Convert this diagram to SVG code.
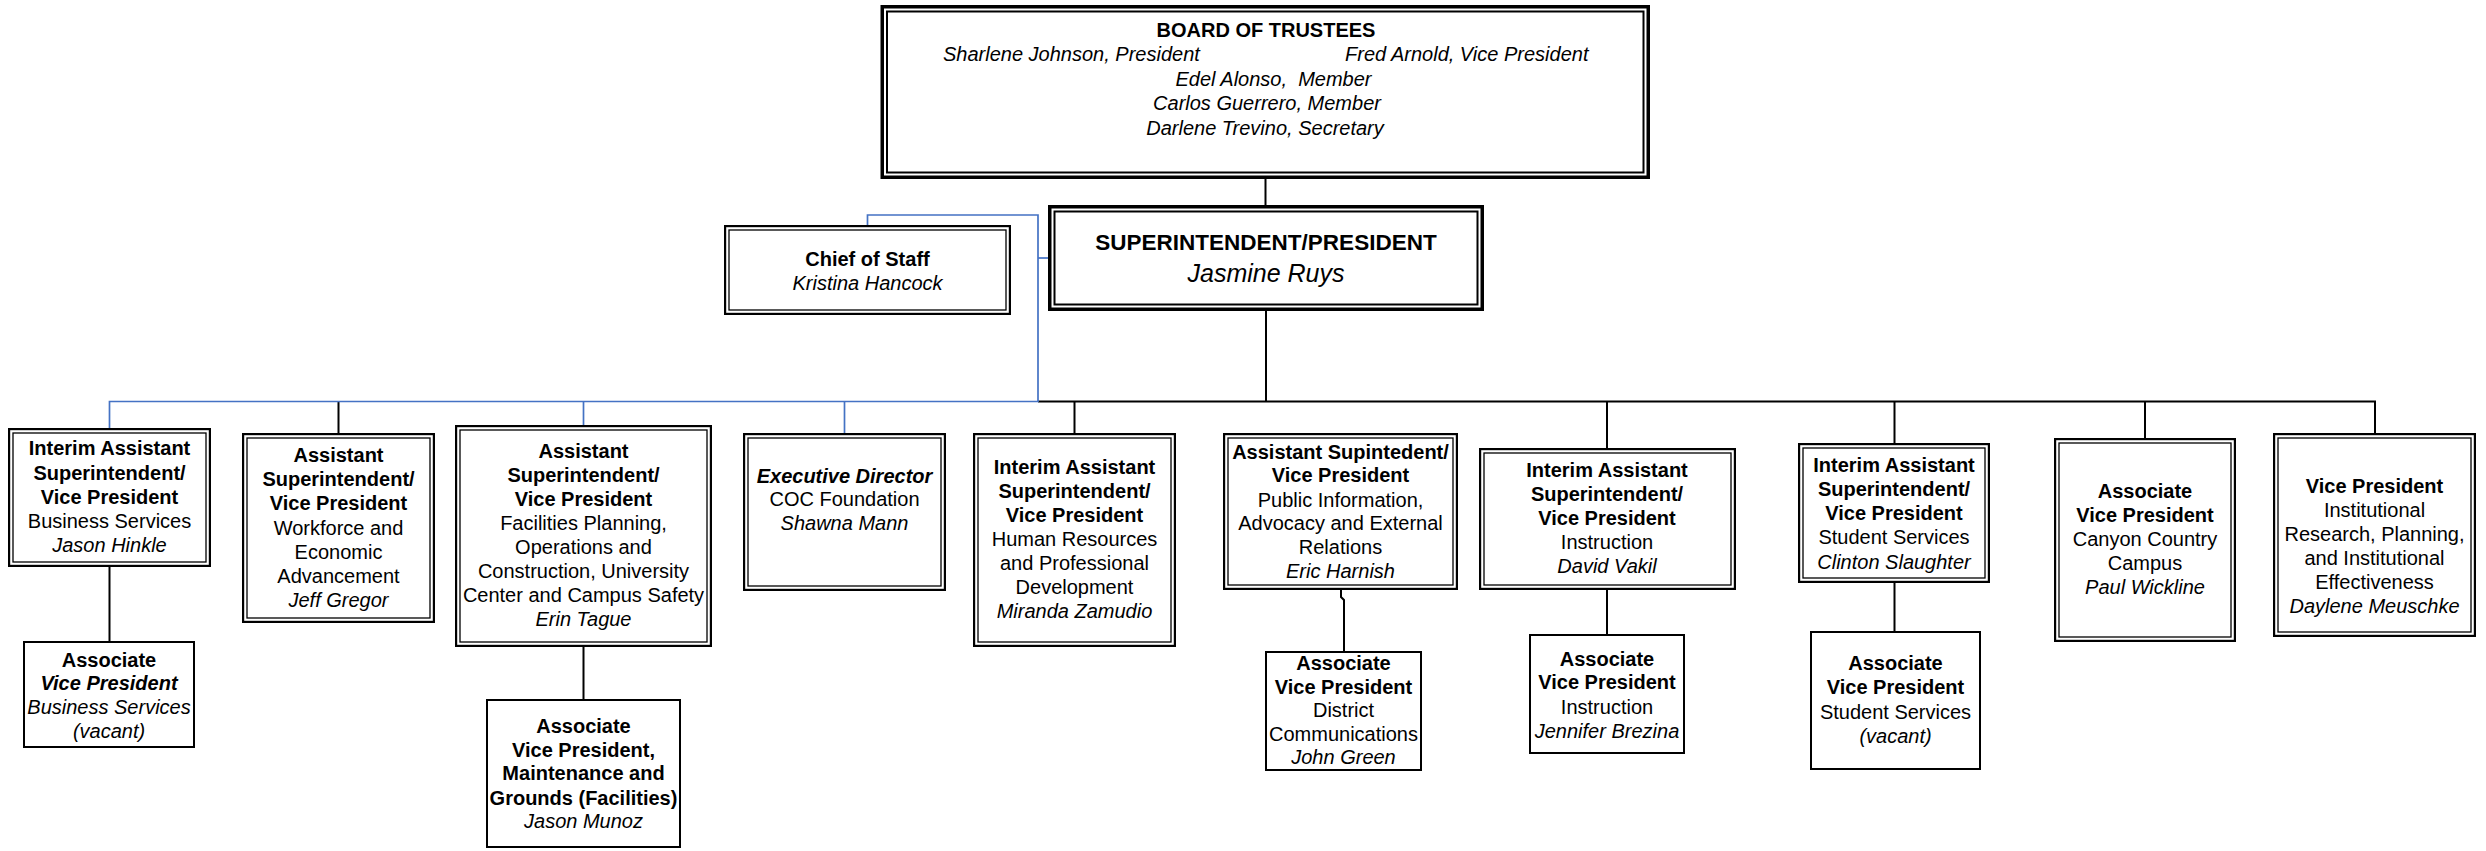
<svg xmlns="http://www.w3.org/2000/svg" width="2486" height="851" viewBox="0 0 2486 851">
<style>
  .bg { fill: #ffffff; }
  .o { fill: #ffffff; stroke: #000; stroke-width: 2.2; }
  .i { fill: none; stroke: #000; stroke-width: 1.3; }
  .O { fill: #ffffff; stroke: #000; stroke-width: 3.5; }
  .I { fill: none; stroke: #000; stroke-width: 2; }
  .s { fill: #ffffff; stroke: #000; stroke-width: 2; }
  .k { fill: none; stroke: #000; stroke-width: 2; }
  .bl { fill: none; stroke: #4472C4; stroke-width: 1.7; }
  text { font-family: "Liberation Sans", Arial, sans-serif; font-size: 20px; fill: #000; text-anchor: middle; }
  .b { font-weight: bold; }
  .it { font-style: italic; }
  .bi { font-weight: bold; font-style: italic; }
  .st { text-anchor: start; }
</style>
<rect class="bg" x="0" y="0" width="2486" height="851"/>

<g id="connectors">
  <path class="k" d="M1265.5,179 V205"/>
  <path class="k" d="M1266,311 V401.5"/>
  <path class="k" d="M1038,401.5 H2375 V433"/>
  <path class="k" d="M338.5,401.5 V433"/>
  <path class="k" d="M1074.5,401.5 V433"/>
  <path class="k" d="M1607,401.5 V448"/>
  <path class="k" d="M1894.5,401.5 V443"/>
  <path class="k" d="M2145,401.5 V438"/>
  <path class="k" d="M109.5,567 V641"/>
  <path class="k" d="M583.5,647 V699"/>
  <path class="k" d="M1341,590 V597 L1344,600 V651"/>
  <path class="k" d="M1607,590 V634"/>
  <path class="k" d="M1894.5,583 V631"/>
  <path class="bl" d="M109.5,428 V401.5 H1038 V215 H867.5 V225"/>
  <path class="bl" d="M1038,258 H1048"/>
  <path class="bl" d="M583.5,401.5 V425"/>
  <path class="bl" d="M844.5,401.5 V433"/>
</g>

<g id="board">
  <rect class="O" x="882.25" y="6.75" width="766" height="170.5"/>
  <rect class="I" x="887" y="11.5" width="756.5" height="161"/>
  <text class="b" x="1266" y="37">BOARD OF TRUSTEES</text>
  <text class="it st" x="943" y="61">Sharlene Johnson, President</text>
  <text class="it st" x="1345" y="61">Fred Arnold, Vice President</text>
  <text class="it" x="1273.5" y="86" xml:space="preserve">Edel Alonso,  Member</text>
  <text class="it" x="1267" y="110">Carlos Guerrero, Member</text>
  <text class="it" x="1265" y="135">Darlene Trevino, Secretary</text>
</g>

<g id="superintendent">
  <rect class="O" x="1049.75" y="206.75" width="432.5" height="102.5"/>
  <rect class="I" x="1054.5" y="211.5" width="423" height="93"/>
  <text class="b" x="1266" y="250" style="font-size:22.5px">SUPERINTENDENT/PRESIDENT</text>
  <text class="it" x="1266" y="282" style="font-size:25px">Jasmine Ruys</text>
</g>

<g id="chief-of-staff">
  <rect class="o" x="725.1" y="226.1" width="284.8" height="87.8"/>
  <rect class="i" x="729" y="230" width="277" height="80"/>
  <text class="b" x="867.5" y="266">Chief of Staff</text>
  <text class="it" x="867.5" y="290">Kristina Hancock</text>
</g>

<g id="business-services">
  <rect class="o" x="9.1" y="429.1" width="200.8" height="136.8"/>
  <rect class="i" x="13" y="433" width="193" height="129"/>
  <text class="b" x="109.5" y="455">Interim Assistant</text>
  <text class="b" x="109.5" y="480">Superintendent/</text>
  <text class="b" x="109.5" y="504">Vice President</text>
  <text x="109.5" y="528">Business Services</text>
  <text class="it" x="109.5" y="552">Jason Hinkle</text>
</g>

<g id="avp-business-services">
  <rect class="s" x="24" y="642" width="170" height="105"/>
  <text class="b" x="109" y="667">Associate</text>
  <text class="bi" x="109" y="690">Vice President</text>
  <text class="it" x="109" y="714">Business Services</text>
  <text class="it" x="109" y="738">(vacant)</text>
</g>

<g id="workforce">
  <rect class="o" x="243.1" y="434.1" width="190.8" height="187.8"/>
  <rect class="i" x="247" y="438" width="183" height="180"/>
  <text class="b" x="338.5" y="462">Assistant</text>
  <text class="b" x="338.5" y="486">Superintendent/</text>
  <text class="b" x="338.5" y="510">Vice President</text>
  <text x="338.5" y="535">Workforce and</text>
  <text x="338.5" y="559">Economic</text>
  <text x="338.5" y="583">Advancement</text>
  <text class="it" x="338.5" y="607">Jeff Gregor</text>
</g>

<g id="facilities">
  <rect class="o" x="456.1" y="426.1" width="254.8" height="219.8"/>
  <rect class="i" x="460" y="430" width="247" height="212"/>
  <text class="b" x="583.5" y="458">Assistant</text>
  <text class="b" x="583.5" y="482">Superintendent/</text>
  <text class="b" x="583.5" y="506">Vice President</text>
  <text x="583.5" y="530">Facilities Planning,</text>
  <text x="583.5" y="554">Operations and</text>
  <text x="583.5" y="578">Construction, University</text>
  <text x="583.5" y="602">Center and Campus Safety</text>
  <text class="it" x="583.5" y="626">Erin Tague</text>
</g>

<g id="avp-maintenance">
  <rect class="s" x="487" y="700" width="193" height="147"/>
  <text class="b" x="583.5" y="733">Associate</text>
  <text class="b" x="583.5" y="757">Vice President,</text>
  <text class="b" x="583.5" y="780">Maintenance and</text>
  <text class="b" x="583.5" y="805">Grounds (Facilities)</text>
  <text class="it" x="583.5" y="828">Jason Munoz</text>
</g>

<g id="foundation">
  <rect class="o" x="744.1" y="434.1" width="200.8" height="155.8"/>
  <rect class="i" x="748" y="438" width="193" height="148"/>
  <text class="bi" x="844.5" y="483">Executive Director</text>
  <text x="844.5" y="506">COC Foundation</text>
  <text class="it" x="844.5" y="530">Shawna Mann</text>
</g>

<g id="human-resources">
  <rect class="o" x="974.1" y="434.1" width="200.8" height="211.8"/>
  <rect class="i" x="978" y="438" width="193" height="204"/>
  <text class="b" x="1074.5" y="474">Interim Assistant</text>
  <text class="b" x="1074.5" y="498">Superintendent/</text>
  <text class="b" x="1074.5" y="522">Vice President</text>
  <text x="1074.5" y="546">Human Resources</text>
  <text x="1074.5" y="570">and Professional</text>
  <text x="1074.5" y="594">Development</text>
  <text class="it" x="1074.5" y="618">Miranda Zamudio</text>
</g>

<g id="public-information">
  <rect class="o" x="1224.1" y="434.1" width="232.8" height="154.8"/>
  <rect class="i" x="1228" y="438" width="225" height="147"/>
  <text class="b" x="1340.5" y="459">Assistant Supintedent/</text>
  <text class="b" x="1340.5" y="482">Vice President</text>
  <text x="1340.5" y="507">Public Information,</text>
  <text x="1340.5" y="530">Advocacy and External</text>
  <text x="1340.5" y="554">Relations</text>
  <text class="it" x="1340.5" y="578">Eric Harnish</text>
</g>

<g id="avp-communications">
  <rect class="s" x="1266" y="652" width="155" height="118"/>
  <text class="b" x="1343.5" y="670">Associate</text>
  <text class="b" x="1343.5" y="694">Vice President</text>
  <text x="1343.5" y="717">District</text>
  <text x="1343.5" y="741">Communications</text>
  <text class="it" x="1343.5" y="764">John Green</text>
</g>

<g id="instruction">
  <rect class="o" x="1480.1" y="449.1" width="254.8" height="139.8"/>
  <rect class="i" x="1484" y="453" width="247" height="132"/>
  <text class="b" x="1607" y="477">Interim Assistant</text>
  <text class="b" x="1607" y="501">Superintendent/</text>
  <text class="b" x="1607" y="525">Vice President</text>
  <text x="1607" y="549">Instruction</text>
  <text class="it" x="1607" y="573">David Vakil</text>
</g>

<g id="avp-instruction">
  <rect class="s" x="1530" y="635" width="154" height="118"/>
  <text class="b" x="1607" y="666">Associate</text>
  <text class="b" x="1607" y="689">Vice President</text>
  <text x="1607" y="714">Instruction</text>
  <text class="it" x="1607" y="738">Jennifer Brezina</text>
</g>

<g id="student-services">
  <rect class="o" x="1799.1" y="444.1" width="189.8" height="137.8"/>
  <rect class="i" x="1803" y="448" width="182" height="130"/>
  <text class="b" x="1894" y="472">Interim Assistant</text>
  <text class="b" x="1894" y="496">Superintendent/</text>
  <text class="b" x="1894" y="520">Vice President</text>
  <text x="1894" y="544">Student Services</text>
  <text class="it" x="1894" y="569">Clinton Slaughter</text>
</g>

<g id="avp-student-services">
  <rect class="s" x="1811" y="632" width="169" height="137"/>
  <text class="b" x="1895.5" y="670">Associate</text>
  <text class="b" x="1895.5" y="694">Vice President</text>
  <text x="1895.5" y="719">Student Services</text>
  <text class="it" x="1895.5" y="743">(vacant)</text>
</g>

<g id="canyon-country">
  <rect class="o" x="2055.1" y="439.1" width="179.8" height="201.8"/>
  <rect class="i" x="2059" y="443" width="172" height="194"/>
  <text class="b" x="2145" y="498">Associate</text>
  <text class="b" x="2145" y="522">Vice President</text>
  <text x="2145" y="546">Canyon Country</text>
  <text x="2145" y="570">Campus</text>
  <text class="it" x="2145" y="594">Paul Wickline</text>
</g>

<g id="institutional-research">
  <rect class="o" x="2274.1" y="434.1" width="200.8" height="201.8"/>
  <rect class="i" x="2278" y="438" width="193" height="194"/>
  <text class="b" x="2374.5" y="493">Vice President</text>
  <text x="2374.5" y="517">Institutional</text>
  <text x="2374.5" y="541">Research, Planning,</text>
  <text x="2374.5" y="565">and Institutional</text>
  <text x="2374.5" y="589">Effectiveness</text>
  <text class="it" x="2374.5" y="613">Daylene Meuschke</text>
</g>
</svg>
